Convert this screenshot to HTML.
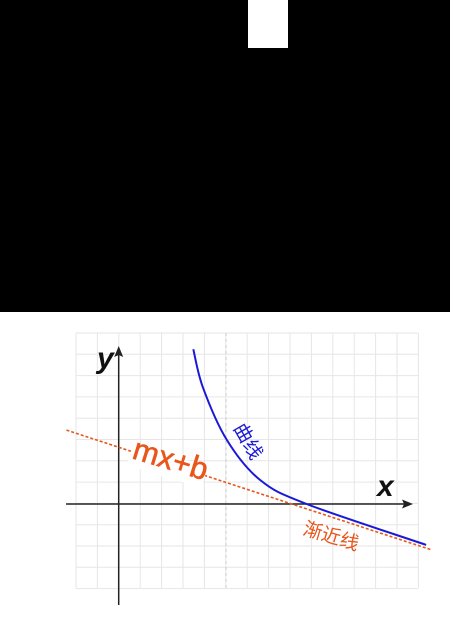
<!DOCTYPE html>
<html><head><meta charset="utf-8"><style>
html,body{margin:0;padding:0;background:#fff;width:450px;height:628px;overflow:hidden}
svg{display:block}
</style></head><body>
<svg id="c" width="450" height="628">
<rect x="0" y="0" width="450" height="312" fill="#000"/>
<rect x="248" y="0" width="40" height="48" fill="#fff"/>
<g id="grid"></g>
<line x1="226" y1="333" x2="226" y2="588" stroke="#ccc" stroke-dasharray="3,3"/>
<line x1="66" y1="504" x2="408" y2="504" stroke="#222" stroke-width="1.5"/>
<polygon points="413,504 402,499.5 404,504 402,508.5" fill="#222"/>
<line x1="118.7" y1="605" x2="118.7" y2="352" stroke="#222" stroke-width="1.5"/>
<polygon points="118.7,346 114.2,357 118.7,355 123.2,357" fill="#222"/>
<path id="asym" fill="none" stroke="#e8561c" stroke-width="1.6" stroke-dasharray="3,2"/>
<path id="curve" fill="none" stroke="#1a1ad6" stroke-width="2"/>
<text x="97" y="368" font-family="Liberation Sans, sans-serif" font-size="30" font-weight="bold" font-style="italic" fill="#111">y</text>
<text x="377" y="496" font-family="Liberation Sans, sans-serif" font-size="30" font-weight="bold" font-style="italic" fill="#111">x</text>
<g transform="translate(131,458) rotate(17)">
<rect x="-2" y="-14" width="78" height="22" fill="#fff"/>
<text x="0" y="0" font-family="Liberation Sans, sans-serif" font-size="31" fill="#e8561c" stroke="#e8561c" stroke-width="0.6">mx+b</text>
</g>
<text x="0" y="0" transform="translate(233,428) rotate(60)" font-family="Liberation Sans, 'Noto Sans CJK SC', sans-serif" font-size="19" fill="#1a1ad6">曲线</text>
<text x="0" y="0" transform="translate(302,534) rotate(17)" font-family="Liberation Sans, 'Noto Sans CJK SC', sans-serif" font-size="19" fill="#e8561c">渐近线</text>
</svg>
<script>
const slopeM = [-0.328];
const interceptB = [2.64];
const curveX = [3.47, 3.92, 5.03, 6.57, 8.74, 14.3];
const curveY = [7.2, 5.41, 2.98, 1.12, 0, -1.9];
const ox = 118.7, oy = 504, u = 21.5;
const X = x => ox + x * u, Y = y => oy - y * u;
const ns = 'http://www.w3.org/2000/svg';
const g = document.getElementById('grid');
for (let i = 0; i <= 16; i++) {
  const x = 76 + i * 21.4;
  const l = document.createElementNS(ns, 'line');
  l.setAttribute('x1', x); l.setAttribute('x2', x); l.setAttribute('y1', 333); l.setAttribute('y2', 588);
  l.setAttribute('stroke', '#e6e6e6');
  
  
  g.appendChild(l);
}
for (let j = 0; j <= 12; j++) {
  const y = 333 + j * 21.3;
  const l = document.createElementNS(ns, 'line');
  l.setAttribute('x1', 76); l.setAttribute('x2', 418); l.setAttribute('y1', y); l.setAttribute('y2', y);
  l.setAttribute('stroke', '#e6e6e6');
  
  
  g.appendChild(l);
}
const m = slopeM[0], b = interceptB[0];
document.getElementById('asym').setAttribute('d', `M${X(-2.43)},${Y(m*-2.43+b)} L${X(14.56)},${Y(m*14.56+b)}`);
const P = curveX.map((x, i) => [X(x), Y(curveY[i])]);
let d = `M${P[0][0]},${P[0][1]}`;
for (let i = 0; i < P.length - 1; i++) {
  const p0 = P[Math.max(i-1,0)], p1 = P[i], p2 = P[i+1], p3 = P[Math.min(i+2,P.length-1)];
  const c1 = [p1[0] + (p2[0]-p0[0])/6, p1[1] + (p2[1]-p0[1])/6];
  const c2 = [p2[0] - (p3[0]-p1[0])/6, p2[1] - (p3[1]-p1[1])/6];
  d += ` C${c1[0].toFixed(1)},${c1[1].toFixed(1)} ${c2[0].toFixed(1)},${c2[1].toFixed(1)} ${p2[0].toFixed(1)},${p2[1].toFixed(1)}`;
}
document.getElementById('curve').setAttribute('d', d);
</script>
</body></html>
